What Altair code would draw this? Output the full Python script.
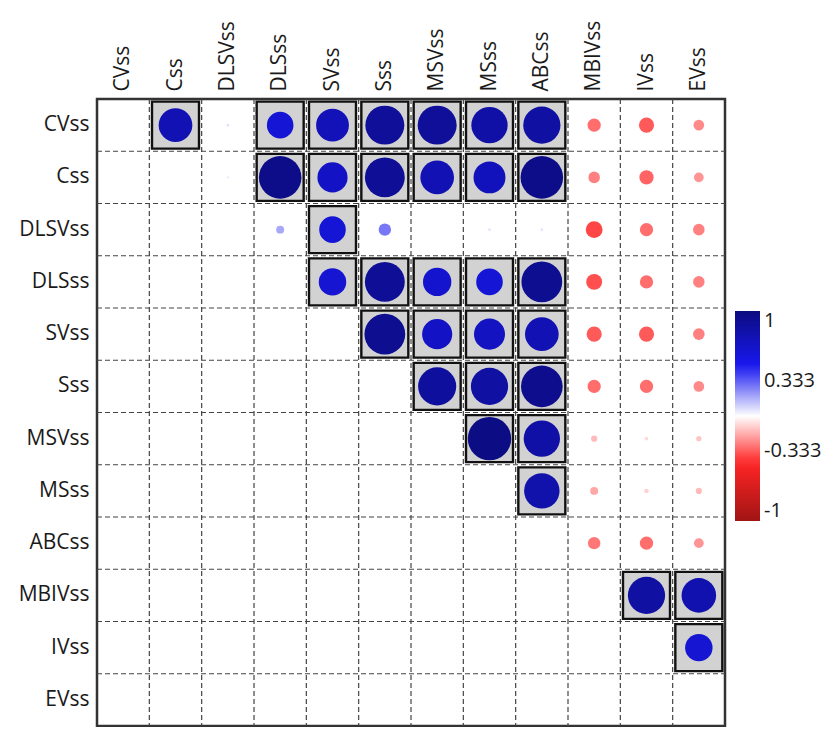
import altair as alt
import pandas as pd

variables = ["CVss", "Css", "DLSVss", "DLSss", "SVss", "Sss",
             "MSVss", "MSss", "ABCss", "MBIVss", "IVss", "EVss"]

# upper-triangle correlations, row i against columns i+1..end
r_CVss = [0.76, 0.06, 0.60, 0.74, 0.88, 0.88, 0.82, 0.84, -0.30, -0.34, -0.24]
r_Css = [0.05, 0.96, 0.68, 0.90, 0.76, 0.72, 0.96, -0.26, -0.32, -0.22]
r_DLSVss = [0.18, 0.60, 0.28, 0.01, 0.06, 0.06, -0.38, -0.30, -0.26]
r_DLSss = [0.62, 0.90, 0.64, 0.60, 0.92, -0.36, -0.30, -0.26]
r_SVss = [0.92, 0.68, 0.70, 0.76, -0.34, -0.34, -0.26]
r_Sss = [0.86, 0.84, 0.94, -0.30, -0.30, -0.24]
r_MSVss = [0.98, 0.82, -0.14, -0.08, -0.12]
r_MSss = [0.80, -0.18, -0.10, -0.14]
r_ABCss = [-0.28, -0.30, -0.22]
r_MBIVss = [0.84, 0.78]
r_IVss = [0.62]
upper = [r_CVss, r_Css, r_DLSVss, r_DLSss, r_SVss, r_Sss,
         r_MSVss, r_MSss, r_ABCss, r_MBIVss, r_IVss]

legend_ticks = [1, 0.333, -0.333, -1]
color_stops = [-1, -0.45, 0, 0.48, 1]
color_range = ["#a01414", "#ff2424", "#ffffff", "#1818f0", "#0c0c80"]

rows = []
for i, vals in enumerate(upper):
    for k, v in enumerate(vals):
        rows.append({"row": variables[i], "col": variables[i + 1 + k], "r": v})
cells = pd.DataFrame(rows)
bounds = pd.DataFrame({"v": variables[1:]})

W, H = 628, 627
FONT = "Open Sans"

xs = alt.Scale(domain=variables, type="band", paddingInner=0, paddingOuter=0)
ys = alt.Scale(domain=variables, type="band", paddingInner=0, paddingOuter=0)
xaxis = alt.Axis(orient="top", labelAngle=270, title=None, ticks=False, domain=False,
                 grid=False, labelFont=FONT, labelFontSize=21, labelColor="#1a1a1a",
                 labelPadding=8)
yaxis = alt.Axis(orient="left", title=None, ticks=False, domain=False, grid=False,
                 labelFont=FONT, labelFontSize=21, labelColor="#1a1a1a", labelPadding=8)

vgrid = alt.Chart(bounds).mark_rule(color="#444444", strokeDash=[5, 3], strokeWidth=1.2).encode(
    x=alt.X("v:N", scale=xs, axis=xaxis, bandPosition=0),
    y=alt.value(0), y2=alt.value(H))
hgrid = alt.Chart(bounds).mark_rule(color="#444444", strokeDash=[5, 3], strokeWidth=1.2).encode(
    y=alt.Y("v:N", scale=ys, axis=yaxis, bandPosition=0),
    x=alt.value(0), x2=alt.value(W))

sig = alt.Chart(cells).transform_filter("datum.r > 0.5").mark_square(
    size=2209, fill="#d2d2d2", stroke="#111111", strokeWidth=2.4, opacity=1).encode(
    x=alt.X("col:N", scale=xs, axis=xaxis),
    y=alt.Y("row:N", scale=ys, axis=yaxis))

circles = alt.Chart(cells).transform_calculate(absr="abs(datum.r)").mark_circle(opacity=1).encode(
    x=alt.X("col:N", scale=xs, axis=xaxis),
    y=alt.Y("row:N", scale=ys, axis=yaxis),
    size=alt.Size("absr:Q", scale=alt.Scale(type="pow", exponent=2, domain=[0, 1], range=[0, 1963]),
                  legend=None),
    color=alt.Color("r:Q",
                    scale=alt.Scale(domain=color_stops, range=color_range, interpolate="rgb"),
                    legend=alt.Legend(orient="none", legendX=638, legendY=212, title=None,
                                      direction="vertical", gradientLength=210,
                                      gradientThickness=25, values=legend_ticks,
                                      labelFont=FONT, labelFontSize=20, labelColor="#1a1a1a",
                                      labelOffset=4, labelOverlap=False,
                                      labelExpr="datum.value > 0.9 ? '1' : datum.value > 0 ? '0.333' : datum.value > -0.9 ? '-0.333' : '-1'")),
)

chart = alt.layer(vgrid, hgrid, sig, circles).properties(
    width=W, height=H, padding={"left": 10, "top": 12, "right": 0, "bottom": 0}
).configure_view(stroke="#333333", strokeWidth=2.5)

chart.save("out.html", embed_options={"renderer": "svg", "actions": False})
